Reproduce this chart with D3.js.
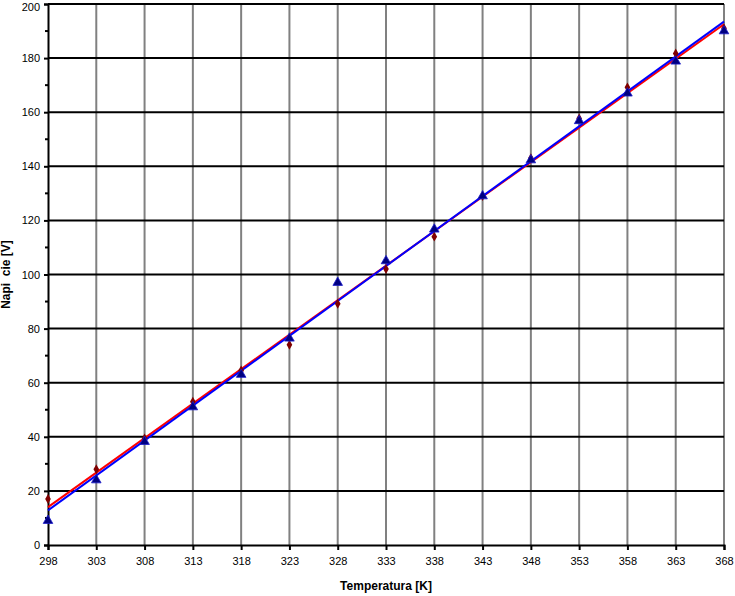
<!DOCTYPE html>
<html>
<head>
<meta charset="utf-8">
<script src="https://cdn.jsdelivr.net/npm/d3@7"></script>
<style>
  html, body { margin: 0; padding: 0; background: #fff; }
  svg { display: block; }
  text { font-family: "Liberation Sans", Arial, sans-serif; }
</style>
</head>
<body>
<script>
const temps = [298, 303, 308, 313, 318, 323, 328, 333, 338, 343, 348, 353, 358, 363, 368];
const seriesDiamond = [17, 28, 39.4, 53, 64.5, 74, 89.2, 102, 114, 129, 143, 157.7, 169.2, 181.7, 191];
const seriesTriangle = [9, 24, 38.2, 51, 63, 76.4, 97, 105, 116.7, 129, 142.3, 156.8, 167, 178.8, 190];
const trendX = [298, 368];
const trendRed = [14.0, 192.5];
const trendBlue = [12.8, 193.5];
const xTicks = [298, 303, 308, 313, 318, 323, 328, 333, 338, 343, 348, 353, 358, 363, 368];
const yTicks = [0, 20, 40, 60, 80, 100, 120, 140, 160, 180, 200];
const yMinorTicks = [10, 30, 50, 70, 90, 110, 130, 150, 170, 190];

const W = 735, H = 596;
const svg = d3.select("body").append("svg").attr("width", W).attr("height", H);

const x = d3.scaleLinear().domain([298, 368]).range([48, 724]);
const y = d3.scaleLinear().domain([0, 200]).range([545, 4]);

// vertical grid (gray)
svg.append("g").selectAll("line").data(xTicks.slice(1)).join("line")
  .attr("x1", d => x(d)).attr("x2", d => x(d))
  .attr("y1", y(0)).attr("y2", y(200))
  .attr("stroke", "#808080").attr("stroke-width", 2);

// horizontal grid (black)
svg.append("g").selectAll("line").data(yTicks.slice(1)).join("line")
  .attr("x1", x(298)).attr("x2", x(368))
  .attr("y1", d => y(d)).attr("y2", d => y(d))
  .attr("stroke", "#000").attr("stroke-width", 2);

// Y axis
const yAxis = svg.append("g").attr("transform", `translate(${x(298)},0)`)
  .call(d3.axisLeft(y).tickValues(yTicks).tickSize(4).tickPadding(4).tickFormat(d3.format("d")));
yAxis.select(".domain").attr("stroke", "#000").attr("stroke-width", 2);
yAxis.selectAll(".tick line").attr("stroke", "#000").attr("stroke-width", 2);
yAxis.selectAll("text").attr("font-size", 11).attr("fill", "#000")
  .style("font-family", "'Liberation Sans', Arial, sans-serif");
yAxis.selectAll(".tick").filter(d => d === 200).select("text").attr("y", 3);
svg.append("g").selectAll("line").data(yMinorTicks).join("line")
  .attr("x1", x(298) - 3).attr("x2", x(298))
  .attr("y1", d => y(d)).attr("y2", d => y(d))
  .attr("stroke", "#000").attr("stroke-width", 2);

// X axis
const xAxis = svg.append("g").attr("transform", `translate(0,${y(0)})`)
  .call(d3.axisBottom(x).tickValues(xTicks).tickSize(5).tickPadding(7).tickFormat(d3.format("d")));
xAxis.select(".domain").attr("stroke", "#000").attr("stroke-width", 2);
xAxis.selectAll(".tick line").attr("stroke", "#000").attr("stroke-width", 2);
xAxis.selectAll("text").attr("font-size", 11).attr("fill", "#000")
  .style("font-family", "'Liberation Sans', Arial, sans-serif");

// Trend lines
const lineGen = d3.line().x(d => x(d[0])).y(d => y(d[1]));
svg.append("path").datum(trendX.map((t, i) => [t, trendRed[i]]))
  .attr("d", lineGen).attr("fill", "none").attr("stroke", "#ff0000").attr("stroke-width", 2);
svg.append("path").datum(trendX.map((t, i) => [t, trendBlue[i]]))
  .attr("d", lineGen).attr("fill", "none").attr("stroke", "#0000ff").attr("stroke-width", 2);

// Diamonds
svg.append("g").selectAll("path").data(temps.map((t, i) => [t, seriesDiamond[i]])).join("path")
  .attr("d", d3.symbol().type(d3.symbolDiamond).size(28))
  .attr("transform", d => `translate(${x(d[0])},${y(d[1])})`)
  .attr("fill", "#800000");

// Triangles
svg.append("g").selectAll("path").data(temps.map((t, i) => [t, seriesTriangle[i]])).join("path")
  .attr("d", d3.symbol().type(d3.symbolTriangle).size(40))
  .attr("transform", d => `translate(${x(d[0])},${y(d[1])})`)
  .attr("fill", "#000080").attr("stroke", "#1a1acc").attr("stroke-width", 0.8);

// Axis titles
svg.append("text").attr("x", (x(298) + x(368)) / 2).attr("y", 590)
  .attr("text-anchor", "middle").attr("font-size", 12).attr("font-weight", "bold")
  .text("Temperatura [K]");
svg.append("text").attr("transform", `translate(10,${(y(0) + y(200)) / 2}) rotate(-90)`)
  .attr("text-anchor", "middle").attr("font-size", 12).attr("font-weight", "bold")
  .style("white-space", "pre")
  .text("Napi  cie [V]");
</script>
</body>
</html>
